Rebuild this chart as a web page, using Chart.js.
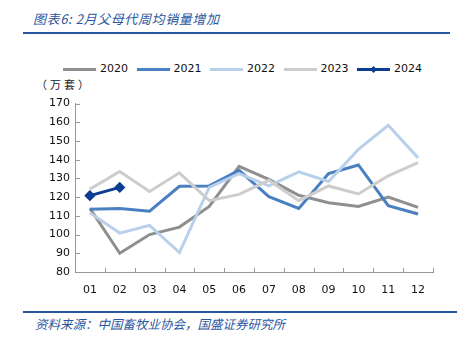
<!DOCTYPE html>
<html><head><meta charset="utf-8">
<script src="https://cdn.jsdelivr.net/npm/chart.js@4"></script>
<style>
html,body{margin:0;padding:0;background:#fff;width:467px;height:342px;overflow:hidden;position:relative;font-family:"DejaVu Sans",sans-serif;}
#title{position:absolute;left:33px;top:9px;font:italic 13px "Noto Sans CJK SC",sans-serif;color:#2a56a0;white-space:nowrap;letter-spacing:0.6px;}
#tline{position:absolute;left:23px;top:32px;width:427px;height:2px;background:#2a56a0;}
#fline{position:absolute;left:23px;top:311px;width:434px;height:2px;background:#2a56a0;}
#foot{position:absolute;left:35px;top:314px;font:italic 12.5px "Noto Sans CJK SC",sans-serif;color:#2a56a0;white-space:nowrap;}
#unit{position:absolute;left:36px;top:76px;font:11px "Noto Sans CJK SC",sans-serif;color:#222;white-space:nowrap;letter-spacing:3px;}
#legend{position:absolute;left:63px;top:61px;height:16px;}
.li{position:absolute;top:0;height:16px;}
.ln{position:absolute;top:7px;left:0;width:33px;height:3px;}
.lt{position:absolute;left:37px;top:0;font:11px "DejaVu Sans",sans-serif;color:#111;line-height:16px;}
.dm{position:absolute;left:13.5px;top:5.5px;width:5px;height:5px;transform:rotate(45deg);}
#wrap{position:absolute;left:0;top:92px;width:467px;height:210px;}
</style></head><body>
<div id="title">图表6: 2月父母代周均销量增加</div>
<div id="tline"></div>
<div id="legend"></div>
<div id="unit">（万套）</div>
<div id="wrap"><canvas id="c" width="467" height="210"></canvas></div>
<div id="fline"></div>
<div id="foot">资料来源：中国畜牧业协会，国盛证券研究所</div>
<script>
const months = ["01","02","03","04","05","06","07","08","09","10","11","12"];
const s2020 = [114,90,100,104,115,136.5,129.5,121,117,115,120,114.5];
const s2021 = [113.5,114,112.5,125.8,126,134.3,120.3,114,132.6,137.2,115.5,111];
const s2022 = [111.6,100.8,104.9,90.4,125.2,132.6,126,133.5,128.4,145.5,158.4,141];
const s2023 = [124.3,133.7,123,133,118.1,121.5,129,118.1,126,121.7,131.4,138.4];
const s2024 = [120.8,125.2];
const seriesNames = ["2020","2021","2022","2023","2024"];
const seriesColors = ["#8f8f8f","#4a7fc1","#b9d0ea","#cdcdcd","#0b3d91"];
const yTicks = [80,90,100,110,120,130,140,150,160,170];

const allData = [s2020,s2021,s2022,s2023,s2024];
const lg = document.getElementById('legend');
seriesNames.forEach((n,i)=>{
  const d=document.createElement('div');d.className='li';d.style.left=(i*73.5)+'px';
  d.innerHTML='<div class="ln" style="background:'+seriesColors[i]+'"></div>'+
    (i===4?'<div class="dm" style="background:'+seriesColors[i]+'"></div>':'')+
    '<div class="lt">'+n+'</div>';
  lg.appendChild(d);
});

const innerTicks = {
  id:'innerTicks',
  afterDraw(chart){
    const ctx=chart.ctx, x=chart.scales.x, y=chart.scales.y;
    ctx.save();ctx.strokeStyle='#999';ctx.lineWidth=1;
    ctx.beginPath();
    const n=months.length;
    const w=x.getPixelForValue(1)-x.getPixelForValue(0);
    for(let i=0;i<=n;i++){
      const px=Math.round(i<n? x.getPixelForValue(i)-w/2 : x.right)+0.5;
      ctx.moveTo(px,y.bottom);ctx.lineTo(px,y.bottom-4);
    }
    yTicks.forEach(v=>{const py=Math.round(y.getPixelForValue(v))+0.5;ctx.moveTo(x.left,py);ctx.lineTo(x.left+5,py);});
    ctx.stroke();ctx.restore();
  }
};

new Chart(document.getElementById('c'),{
  type:'line',
  data:{labels:months,datasets:allData.map((d,i)=>({
    label:seriesNames[i],data:d,borderColor:seriesColors[i],backgroundColor:seriesColors[i],
    borderWidth:3,tension:0,
    pointRadius:i===4?3.5:0,pointStyle:'rectRot',pointHoverRadius:0,
    order:i===4?0:(4-i)
  }))},
  options:{
    responsive:false,animation:false,
    layout:{padding:{top:10,right:34,left:0,bottom:0}},
    plugins:{legend:{display:false},tooltip:{enabled:false}},
    scales:{
      x:{offset:true,grid:{display:false,drawTicks:false},border:{display:true,color:'#999',width:1},
        ticks:{padding:12,color:'#111',font:{family:'DejaVu Sans',size:11}},
        afterFit(s){s.height=30;}},
      y:{min:80,max:170,grid:{display:false,drawTicks:false},border:{display:true,color:'#999',width:1},
        afterBuildTicks(s){s.ticks=yTicks.map(v=>({value:v}));},
        ticks:{padding:5,color:'#111',font:{family:'DejaVu Sans',size:11}},
        afterFit(s){s.width=75;}}
    }
  },
  plugins:[innerTicks]
});
</script>
</body></html>
